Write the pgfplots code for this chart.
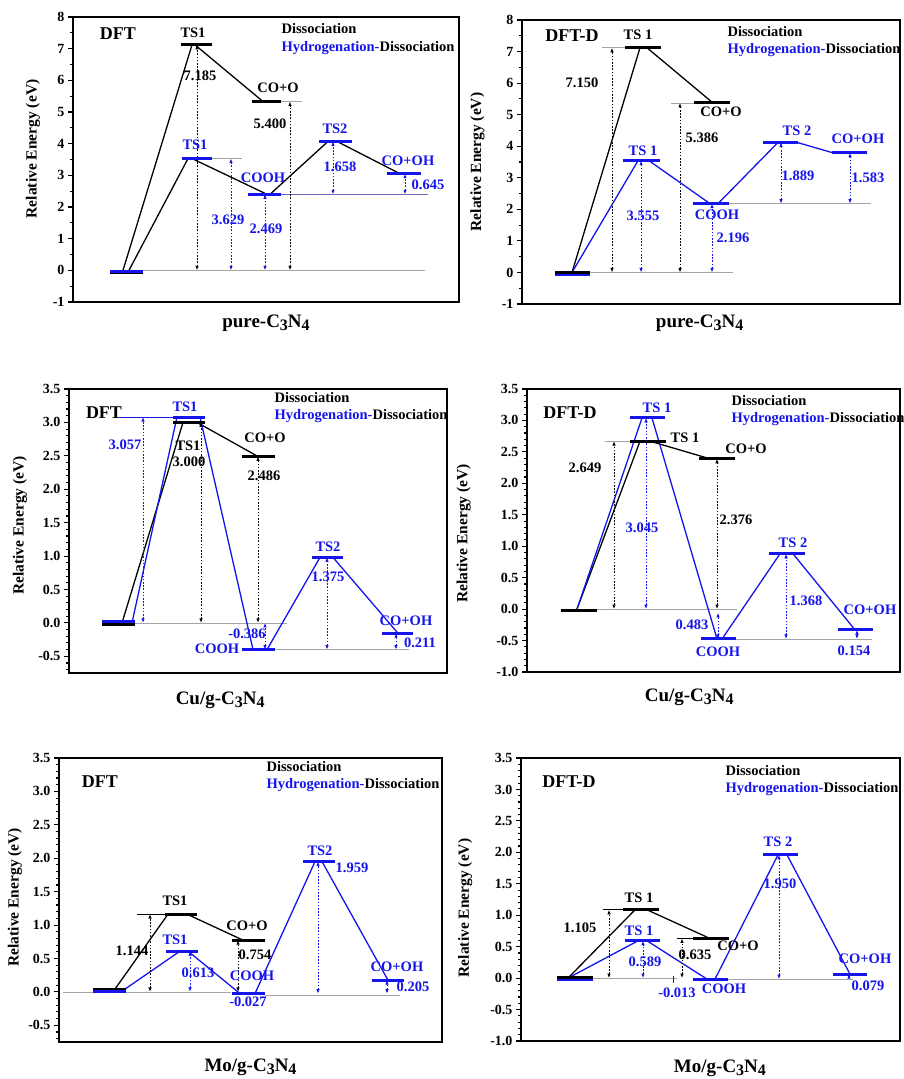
\documentclass[border=0pt]{standalone}
\usepackage{fontspec}
\setmainfont{Liberation Serif}
\usepackage{pgfplots}
\pgfplotsset{compat=1.18}
\usetikzlibrary{arrows.meta}
\definecolor{myblue}{RGB}{20,20,235}
\definecolor{refgray}{RGB}{165,165,165}
\newcommand{\tickfont}{\fontsize{14}{14}\selectfont\bfseries}
\newcommand{\vfont}{\fontsize{14.5}{14.5}\selectfont\bfseries}
\newcommand{\dfont}{\fontsize{18}{18}\selectfont\bfseries}
\newcommand{\ylfont}{\fontsize{15.5}{15.5}\selectfont\bfseries}
\newcommand{\xlfont}{\fontsize{19}{19}\selectfont\bfseries}
\newcommand{\sub}[1]{\raisebox{-0.4ex}{\fontsize{16}{16}\selectfont #1}}
% level bar, connector, reference line, double arrow, text
\newcommand{\lv}[4]{\addplot[color=#1, line width=3pt] coordinates {(#2,#4) (#3,#4)};}
\newcommand{\cn}[5]{\addplot[color=#1, line width=1.3pt] coordinates {(#2,#3) (#4,#5)};}
\newcommand{\rl}[4]{\addplot[color=#1, line width=0.7pt] coordinates {(#2,#4) (#3,#4)};}
\newcommand{\ar}[4]{\addplot[color=#1, line width=0.85pt, dash pattern=on 1.6pt off 1.6pt, {Latex[length=4.5pt,width=3.5pt]}-{Latex[length=4.5pt,width=3.5pt]}] coordinates {(#2,#3) (#2,#4)};}
\newcommand{\tx}[4]{\node[text=#1, font=\vfont] at (axis cs:#2,#3) {#4};}
\newcommand{\leg}[3]{%
  \node[anchor=west, font=\vfont] at (axis cs:#1,#2) {Dissociation};
  \node[anchor=west, font=\vfont] at (axis cs:#1,#3) {\textcolor{myblue}{Hydrogenation-}Dissociation};}
\pgfplotsset{
  en/.style={scale only axis, clip=false, anchor=south west,
    axis line style={line width=1.4pt},
    xtick=\empty, ytick pos=left, tick align=outside,
    major tick length=5pt, minor tick length=3pt,
    every tick/.style={line width=1.1pt, black},
    ticklabel style={font=\tickfont},
    /pgf/number format/assume math mode=true,
    ylabel={Relative Energy (eV)},
    y label style={font=\ylfont, anchor=center},
    x label style={font=\xlfont, anchor=center},
  },
  small/.style={ytick={-1,-0.5,0,0.5,1,1.5,2,2.5,3,3.5}, minor y tick num=4,
    yticklabel style={/pgf/number format/.cd, fixed, fixed zerofill, precision=1}},
}
\begin{document}
\begin{tikzpicture}
\path[use as bounding box] (0,0) rectangle (903pt,1079pt);
% ---------------- Panel 1: pure DFT
\begin{axis}[en, at={(73pt,777pt)}, width=386pt, height=285pt,
  xmin=73, xmax=459, ymin=-1, ymax=8, ytick={-1,0,...,8}, minor y tick num=1,
  xlabel={pure-C\sub{3}N\sub{4}},
  x label style={at={(axis description cs:0.5,-0.074)}},
  y label style={at={(axis description cs:-0.104,0.537)}}]
\rl{refgray}{143}{425}{0}
\rl{refgray}{281}{302}{5.33}
\rl{refgray}{212}{242}{3.53}
\rl{myblue!40!refgray}{281}{428}{2.40}
\cn{black}{123}{0}{192}{7.12}
\cn{black}{129}{0}{188}{3.53}
\cn{black}{195}{7.12}{263}{5.33}
\cn{black}{192}{3.53}{267}{2.40}
\cn{black}{270}{2.40}{328}{4.07}
\cn{black}{337}{4.07}{400}{3.05}
\ar{black}{197}{0}{7.12}
\ar{black}{290}{0}{5.33}
\ar{myblue}{231}{0}{3.53}
\ar{myblue}{265}{0}{2.40}
\ar{myblue}{333}{2.40}{4.07}
\ar{myblue}{405}{2.40}{3.05}
\lv{black}{110}{143}{-0.08}
\lv{myblue}{110}{143}{-0.04}
\lv{black}{181}{212}{7.12}
\lv{black}{252}{281}{5.33}
\lv{myblue}{182}{212}{3.53}
\lv{myblue}{248}{281}{2.40}
\lv{myblue}{319}{352}{4.07}
\lv{myblue}{387}{421}{3.05}
\tx{black}{193}{7.5}{TS1}
\tx{black}{278}{5.77}{CO+O}
\tx{myblue}{195}{3.97}{TS1}
\tx{myblue}{263}{2.93}{COOH}
\tx{myblue}{335}{4.48}{TS2}
\tx{myblue}{408}{3.47}{CO+OH}
\tx{black}{200}{6.15}{7.185}
\tx{black}{270}{4.64}{5.400}
\tx{myblue}{228}{1.58}{3.629}
\tx{myblue}{266}{1.32}{2.469}
\tx{myblue}{340}{3.28}{1.658}
\tx{myblue}{428}{2.71}{0.645}
\node[font=\dfont] at (axis cs:118,7.48) {DFT};
\leg{278}{7.63}{7.03}
\end{axis}
% ---------------- Panel 2: pure DFT-D
\begin{axis}[en, at={(522pt,775pt)}, width=378pt, height=284pt,
  xmin=522, xmax=900, ymin=-1, ymax=8, ytick={-1,0,...,8}, minor y tick num=1,
  xlabel={pure-C\sub{3}N\sub{4}},
  x label style={at={(axis description cs:0.47,-0.067)}},
  y label style={at={(axis description cs:-0.118,0.5)}}]
\rl{refgray}{590}{733}{0}
\rl{refgray}{602}{625}{7.12}
\rl{refgray}{671}{694}{5.37}
\rl{refgray}{729}{871}{2.18}
\cn{black}{572}{0}{640}{7.12}
\cn{black}{647}{7.12}{713}{5.37}
\cn{myblue}{572}{0}{638}{3.54}
\cn{myblue}{649}{3.54}{710}{2.18}
\cn{myblue}{718}{2.18}{778}{4.12}
\cn{myblue}{797}{4.12}{833}{3.79}
\ar{black}{612}{0}{7.12}
\ar{black}{680}{0}{5.37}
\ar{myblue}{641}{0}{3.54}
\ar{myblue}{712}{0}{2.18}
\ar{myblue}{781}{2.18}{4.12}
\ar{myblue}{850}{2.18}{3.79}
\lv{myblue}{555}{590}{-0.05}
\lv{black}{555}{590}{-0.01}
\lv{black}{625}{661}{7.12}
\lv{black}{694}{730}{5.37}
\lv{myblue}{623}{660}{3.54}
\lv{myblue}{693}{729}{2.18}
\lv{myblue}{763}{798}{4.12}
\lv{myblue}{832}{867}{3.79}
\tx{black}{638}{7.53}{TS 1}
\tx{black}{721}{5.1}{CO+O}
\tx{myblue}{643}{3.84}{TS 1}
\tx{myblue}{717}{1.84}{COOH}
\tx{myblue}{797}{4.5}{TS 2}
\tx{myblue}{858}{4.23}{CO+OH}
\tx{black}{582}{6.0}{7.150}
\tx{black}{702}{4.28}{5.386}
\tx{myblue}{643}{1.78}{3.555}
\tx{myblue}{733}{1.1}{2.196}
\tx{myblue}{798}{3.07}{1.889}
\tx{myblue}{868}{3.0}{1.583}
\node[font=\dfont] at (axis cs:572,7.5) {DFT-D};
\leg{724}{7.63}{7.06}
\end{axis}
% ---------------- Panel 3: Cu DFT
\begin{axis}[en, small, at={(69pt,406pt)}, width=378pt, height=284pt,
  xmin=69, xmax=447, ymin=-0.75, ymax=3.5,
  xlabel={Cu/g-C\sub{3}N\sub{4}},
  x label style={at={(axis description cs:0.40,-0.095)}},
  y label style={at={(axis description cs:-0.13,0.52)}}]
\rl{refgray}{135}{287}{0}
\rl{refgray}{275}{409}{-0.40}
\rl{myblue}{119}{173}{3.08}
\cn{black}{122}{0}{183}{3.0}
\cn{black}{197}{3.0}{258}{2.49}
\cn{myblue}{132}{0}{177}{3.08}
\cn{myblue}{200}{3.08}{253}{-0.40}
\cn{myblue}{267}{-0.40}{320}{0.98}
\cn{myblue}{333}{0.98}{398}{-0.155}
\ar{myblue}{143}{0}{3.08}
\ar{black}{201}{0}{3.0}
\ar{black}{258}{0}{2.49}
\ar{myblue}{265}{-0.40}{0}
\ar{myblue}{327}{-0.40}{0.98}
\ar{myblue}{396}{-0.40}{-0.155}
\lv{myblue}{102}{135}{0.02}
\lv{black}{102}{135}{-0.03}
\lv{myblue}{173}{205}{3.08}
\lv{black}{173}{205}{3.0}
\lv{black}{242}{275}{2.49}
\lv{myblue}{242}{275}{-0.40}
\lv{myblue}{312}{343}{0.98}
\lv{myblue}{382}{413}{-0.155}
\tx{myblue}{185}{3.24}{TS1}
\tx{black}{188}{2.65}{TS1}
\tx{black}{265}{2.77}{CO+O}
\tx{myblue}{217}{-0.38}{COOH}
\tx{myblue}{328}{1.14}{TS2}
\tx{myblue}{406}{0.03}{CO+OH}
\tx{myblue}{125}{2.66}{3.057}
\tx{black}{189}{2.41}{3.000}
\tx{black}{264}{2.2}{2.486}
\tx{myblue}{247}{-0.165}{-0.386}
\tx{myblue}{328}{0.69}{1.375}
\tx{myblue}{420}{-0.30}{0.211}
\node[font=\dfont] at (axis cs:104,3.15) {DFT};
\leg{271}{3.37}{3.09}
\end{axis}
% ---------------- Panel 4: Cu DFT-D
\begin{axis}[en, small, at={(527pt,407pt)}, width=373pt, height=283pt,
  xmin=527, xmax=900, ymin=-1, ymax=3.5,
  xlabel={Cu/g-C\sub{3}N\sub{4}},
  x label style={at={(axis description cs:0.435,-0.088)}},
  y label style={at={(axis description cs:-0.17,0.49)}}]
\rl{refgray}{597}{737}{0}
\rl{refgray}{736}{872}{-0.475}
\rl{refgray}{605}{630}{2.67}
\cn{black}{577}{0}{640}{2.67}
\cn{black}{650}{2.67}{710}{2.39}
\cn{myblue}{577}{0}{642}{3.04}
\cn{myblue}{652}{3.04}{717}{-0.475}
\cn{myblue}{722}{-0.475}{780}{0.88}
\cn{myblue}{793}{0.88}{855}{-0.33}
\ar{black}{614}{0}{2.67}
\ar{myblue}{646}{0}{3.04}
\ar{black}{717}{0}{2.39}
\ar{myblue}{718}{-0.475}{-0.06}
\ar{myblue}{786}{-0.475}{0.88}
\ar{myblue}{857}{-0.475}{-0.33}
\lv{myblue}{561}{597}{-0.03}
\lv{black}{561}{597}{-0.02}
\lv{myblue}{630}{665}{3.04}
\lv{black}{630}{666}{2.67}
\lv{black}{699}{735}{2.39}
\lv{myblue}{701}{736}{-0.475}
\lv{myblue}{769}{805}{0.88}
\lv{myblue}{838}{873}{-0.33}
\tx{myblue}{657}{3.2}{TS 1}
\tx{black}{685}{2.72}{TS 1}
\tx{black}{746}{2.55}{CO+O}
\tx{myblue}{718}{-0.68}{COOH}
\tx{myblue}{793}{1.05}{TS 2}
\tx{myblue}{870}{-0.01}{CO+OH}
\tx{black}{585}{2.25}{2.649}
\tx{myblue}{642}{1.29}{3.045}
\tx{black}{736}{1.42}{2.376}
\tx{myblue}{692}{-0.25}{0.483}
\tx{myblue}{806}{0.13}{1.368}
\tx{myblue}{854}{-0.66}{0.154}
\node[font=\dfont] at (axis cs:570,3.13) {DFT-D};
\leg{728}{3.31}{3.02}
\end{axis}
% ---------------- Panel 5: Mo DFT
\begin{axis}[en, small, at={(59pt,37pt)}, width=383pt, height=284pt,
  xmin=59, xmax=442, ymin=-0.75, ymax=3.5,
  xlabel={Mo/g-C\sub{3}N\sub{4}},
  x label style={at={(axis description cs:0.50,-0.088)}},
  y label style={at={(axis description cs:-0.115,0.51)}}]
\rl{refgray}{63}{231}{0}
\rl{refgray}{265}{400}{-0.05}
\rl{black}{137}{165}{1.163}
\cn{black}{113}{0}{168}{1.163}
\cn{black}{187}{1.163}{243}{0.774}
\cn{myblue}{121}{0}{180}{0.609}
\cn{myblue}{188}{0.609}{240}{-0.025}
\cn{myblue}{255}{-0.025}{315}{1.95}
\cn{myblue}{322}{1.95}{388}{0.175}
\ar{black}{150}{0}{1.163}
\ar{myblue}{190}{0}{0.609}
\ar{black}{238}{0}{0.774}
\ar{myblue}{318}{-0.027}{1.95}
\ar{myblue}{387}{-0.027}{0.175}
\lv{black}{93}{126}{0.03}
\lv{myblue}{93}{126}{0.0}
\lv{black}{165}{197}{1.163}
\lv{black}{232}{265}{0.774}
\lv{myblue}{166}{198}{0.609}
\lv{myblue}{232}{265}{-0.025}
\lv{myblue}{303}{335}{1.95}
\lv{myblue}{372}{404}{0.175}
\tx{black}{175}{1.36}{TS1}
\tx{black}{247}{0.99}{CO+O}
\tx{myblue}{175}{0.78}{TS1}
\tx{myblue}{252}{0.235}{COOH}
\tx{myblue}{248}{-0.15}{-0.027}
\tx{myblue}{320}{2.11}{TS2}
\tx{myblue}{397}{0.37}{CO+OH}
\tx{black}{132}{0.61}{1.144}
\tx{myblue}{198}{0.28}{0.613}
\tx{black}{255}{0.55}{0.754}
\tx{myblue}{352}{1.85}{1.959}
\tx{myblue}{413}{0.07}{0.205}
\node[font=\dfont] at (axis cs:100,3.15) {DFT};
\leg{263}{3.37}{3.09}
\end{axis}
% ---------------- Panel 6: Mo DFT-D
\begin{axis}[en, small, at={(521pt,38pt)}, width=379pt, height=283pt,
  xmin=521, xmax=900, ymin=-1, ymax=3.5,
  xlabel={Mo/g-C\sub{3}N\sub{4}},
  x label style={at={(axis description cs:0.525,-0.095)}},
  y label style={at={(axis description cs:-0.147,0.47)}}]
\rl{refgray}{593}{677}{0}
\rl{refgray}{726}{853}{-0.02}
\rl{black}{603}{623}{1.086}
\rl{black}{677}{693}{0.63}
\cn{black}{568}{0}{635}{1.086}
\cn{black}{647}{1.086}{710}{0.63}
\cn{myblue}{568}{0}{638}{0.593}
\cn{myblue}{647}{0.593}{707}{-0.016}
\cn{myblue}{715}{-0.016}{778}{1.96}
\cn{myblue}{787}{1.96}{850}{0.063}
\ar{black}{609}{0}{1.086}
\ar{myblue}{643}{0}{0.593}
\ar{black}{682}{0}{0.63}
\ar{myblue}{779}{-0.016}{1.96}
\ar{myblue}{849}{-0.016}{0.063}
\addplot[color=myblue, line width=1pt] coordinates {(673,-0.07) (673,0.04)};
\lv{myblue}{557}{593}{-0.03}
\lv{black}{557}{593}{0.01}
\lv{black}{623}{659}{1.086}
\lv{black}{693}{729}{0.63}
\lv{myblue}{625}{660}{0.593}
\lv{myblue}{693}{728}{-0.016}
\lv{myblue}{763}{798}{1.96}
\lv{myblue}{833}{867}{0.063}
\tx{black}{639}{1.27}{TS 1}
\tx{black}{738}{0.51}{CO+O}
\tx{myblue}{639}{0.76}{TS 1}
\tx{myblue}{724}{-0.175}{COOH}
\tx{myblue}{677}{-0.23}{-0.013}
\tx{myblue}{778}{2.17}{TS 2}
\tx{myblue}{865}{0.30}{CO+OH}
\tx{black}{580}{0.80}{1.105}
\tx{myblue}{645}{0.26}{0.589}
\tx{black}{695}{0.37}{0.635}
\tx{myblue}{780}{1.50}{1.950}
\tx{myblue}{868}{-0.12}{0.079}
\node[font=\dfont] at (axis cs:569,3.12) {DFT-D};
\leg{722}{3.30}{3.0}
\end{axis}
\end{tikzpicture}
\end{document}
